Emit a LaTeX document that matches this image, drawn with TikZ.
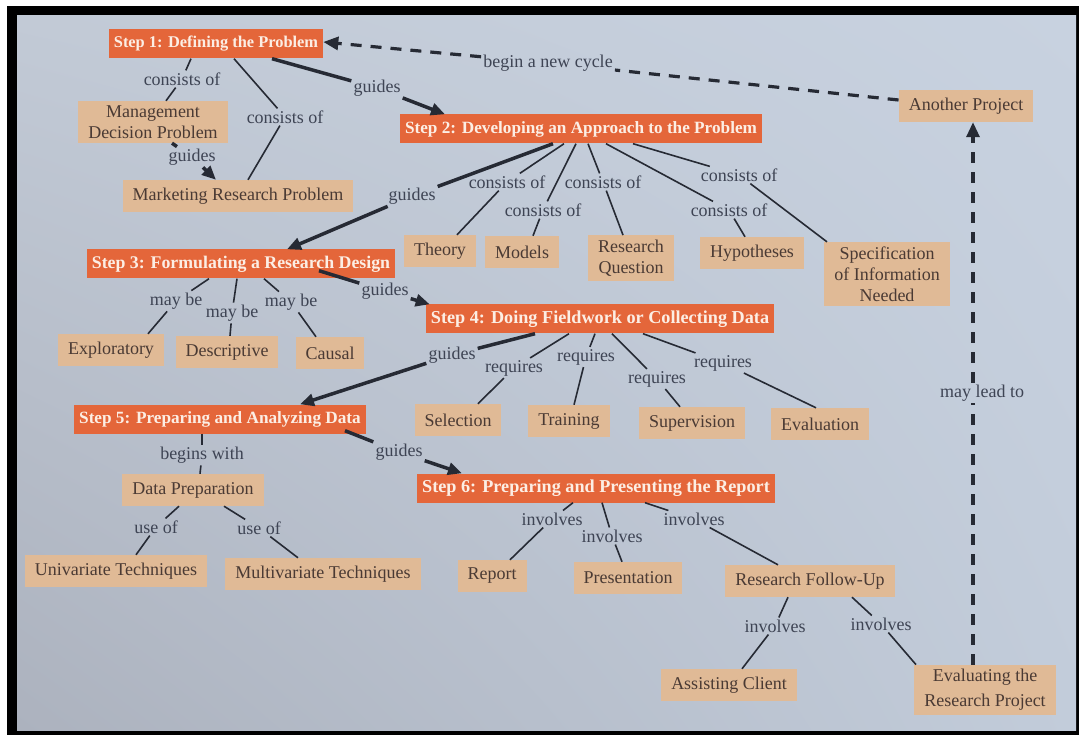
\documentclass[tikz,border=0pt]{standalone}
\usepackage{fontspec}
\setmainfont{Liberation Serif}
\usetikzlibrary{arrows.meta,calc,shadings}
\definecolor{stepfill}{RGB}{228,102,58}
\definecolor{steptext}{RGB}{252,238,228}
\definecolor{boxtan}{RGB}{224,186,150}
\definecolor{boxtext}{RGB}{74,58,52}
\definecolor{lbltext}{RGB}{62,68,84}
\definecolor{linec}{RGB}{38,42,52}
\definecolor{bgul}{RGB}{194,202,214}
\definecolor{bgur}{RGB}{200,210,224}
\definecolor{bgll}{RGB}{172,178,190}
\definecolor{bglr}{RGB}{194,204,218}
\tikzset{
  stepbox/.style={fill=stepfill,text=steptext,inner xsep=5pt,inner ysep=2pt,minimum height=29pt,font=\fontsize{#1}{#1}\selectfont\bfseries},
  stepbox/.default=17.5,
  tanbox/.style={fill=boxtan,text=boxtext,inner xsep=10pt,inner ysep=4.5pt,minimum height=32pt,align=center,font=\fontsize{18}{21}\selectfont},
  lbl/.style={text=lbltext,inner sep=2pt,font=\fontsize{18}{20}\selectfont},
  conn/.style={draw=linec,line width=1.6pt},
  guideline/.style={draw=linec,line width=3.5pt},
  guidearrow/.style={draw=linec,line width=3.5pt,-{Triangle[length=14pt,width=12pt]}},
  dashline/.style={draw=linec,line width=3.2pt,dash pattern=on 11pt off 9pt},
  dasharrow/.style={dashline,-{Triangle[length=15pt,width=13pt]}}
}
\begin{document}
\begin{tikzpicture}[x=1pt,y=-1pt]
\useasboundingbox (0,0) rectangle (1079,735);
\fill[white] (0,0) rectangle (1079,735);
\fill[black] (7,6) rectangle (1079,735);
\shade[upper left=bgul,upper right=bgur,lower left=bgll,lower right=bglr] (17,16) rectangle (1076,730);

% step boxes
\node[stepbox=16.4] (s1) at (216,44) {Step 1: Defining the Problem};
\node[stepbox=17.2] (s2) at (581,129) {Step 2: Developing an Approach to the Problem};
\node[stepbox=17.8] (s3) at (241,264) {Step 3: Formulating a Research Design};
\node[stepbox=18.2] (s4) at (600,319) {Step 4: Doing Fieldwork or Collecting Data};
\node[stepbox=17.2] (s5) at (220,419) {Step 5: Preparing and Analyzing Data};
\node[stepbox=18.2] (s6) at (596,488) {Step 6: Preparing and Presenting the Report};

% tan boxes
\node[tanbox] (mdp) at (153,122) {Management\\Decision Problem};
\node[tanbox] (mrp) at (238,196) {Marketing Research Problem};
\node[tanbox] (ap) at (966,106) {Another Project};
\node[tanbox] (theory) at (440,251) {Theory};
\node[tanbox] (models) at (522,252) {Models};
\node[tanbox] (rq) at (631,258) {Research\\Question};
\node[tanbox] (hyp) at (752,253) {Hypotheses};
\node[tanbox] (spec) at (887,274) {Specification\\of Information\\Needed};
\node[tanbox] (expl) at (111,350) {Exploratory};
\node[tanbox] (desc) at (227,352) {Descriptive};
\node[tanbox] (causal) at (330,353) {Causal};
\node[tanbox] (sel) at (458,420) {Selection};
\node[tanbox] (train) at (569,421) {Training};
\node[tanbox] (superv) at (692,423) {Supervision};
\node[tanbox] (evalu) at (820,424) {Evaluation};
\node[tanbox] (dprep) at (193,490) {Data Preparation};
\node[tanbox] (univ) at (116,571) {Univariate Techniques};
\node[tanbox] (multiv) at (323,574) {Multivariate Techniques};
\node[tanbox] (report) at (492,576) {Report};
\node[tanbox] (pres) at (628,578) {Presentation};
\node[tanbox] (rfu) at (810,581) {Research Follow-Up};
\node[tanbox] (assist) at (729,685) {Assisting Client};
\node[tanbox,font=\fontsize{18}{25}\selectfont] (evalrp) at (985,690) {Evaluating the\\Research Project};

% labels
\node[lbl] (l1a) at (182,79) {consists of};
\node[lbl] (l1b) at (285,117) {consists of};
\node[lbl] (g1) at (377,88) {guides};
\node[lbl] (g0) at (192,157) {guides};
\node[lbl] (bnc) at (548,63) {begin a new cycle};
\node[lbl] (g2) at (412,196) {guides};
\node[lbl] (l2a) at (507,182) {consists of};
\node[lbl] (l2b) at (543,210) {consists of};
\node[lbl] (l2c) at (603,182) {consists of};
\node[lbl] (l2d) at (739,175) {consists of};
\node[lbl] (l2e) at (729,210) {consists of};
\node[lbl] (l3a) at (176,301) {may be};
\node[lbl] (l3b) at (232,313) {may be};
\node[lbl] (l3c) at (291,302) {may be};
\node[lbl] (g3) at (385,291) {guides};
\node[lbl] (g4) at (452,355) {guides};
\node[lbl] (l4a) at (514,368) {requires};
\node[lbl] (l4b) at (586,357) {requires};
\node[lbl] (l4c) at (657,379) {requires};
\node[lbl] (l4d) at (723,363) {requires};
\node[lbl] (mlt) at (982,393) {may lead to};
\node[lbl] (l5a) at (202,455) {begins with};
\node[lbl] (g5) at (399,452) {guides};
\node[lbl] (l5b) at (156,527) {use of};
\node[lbl] (l5c) at (259,528) {use of};
\node[lbl] (l6a) at (552,519) {involves};
\node[lbl] (l6b) at (612,536) {involves};
\node[lbl] (l6c) at (694,519) {involves};
\node[lbl] (l7a) at (775,626) {involves};
\node[lbl] (l7b) at (881,624) {involves};

% thin connectors
\draw[conn] ([xshift=-25pt]s1.south) -- (l1a);
\draw[conn] (l1a) -- ([xshift=13pt]mdp.north);
\draw[conn] ([xshift=18pt]s1.south) -- (l1b);
\draw[conn] (l1b) -- ([xshift=10pt]mrp.north);

\draw[conn] ([xshift=-17pt]s2.south) -- (l2a);
\draw[conn] (l2a) -- ([xshift=17pt]theory.north);
\draw[conn] ([xshift=-5pt]s2.south) -- (l2b);
\draw[conn] (l2b) -- ([xshift=11pt]models.north);
\draw[conn] ([xshift=7pt]s2.south) -- (l2c);
\draw[conn] (l2c) -- ([xshift=-8pt]rq.north);
\draw[conn] ([xshift=25pt]s2.south) -- (l2e);
\draw[conn] (l2e) -- ([xshift=-7pt]hyp.north);
\draw[conn] ([xshift=52pt]s2.south) -- (l2d);
\draw[conn] (l2d) -- ([xshift=-60pt]spec.north);

\draw[conn] ([xshift=-32pt]s3.south) -- (l3a);
\draw[conn] (l3a) -- ([xshift=37pt]expl.north);
\draw[conn] ([xshift=-4pt]s3.south) -- (l3b);
\draw[conn] (l3b) -- ([xshift=3pt]desc.north);
\draw[conn] ([xshift=23pt]s3.south) -- (l3c);
\draw[conn] (l3c) -- ([xshift=-14pt]causal.north);

\draw[conn] ([xshift=-31pt]s4.south) -- (l4a);
\draw[conn] (l4a) -- ([xshift=20pt]sel.north);
\draw[conn] ([xshift=-5pt]s4.south) -- (l4b);
\draw[conn] (l4b) -- ([xshift=5pt]train.north);
\draw[conn] ([xshift=12pt]s4.south) -- (l4c);
\draw[conn] (l4c) -- ([xshift=-12pt]superv.north);
\draw[conn] ([xshift=43pt]s4.south) -- (l4d);
\draw[conn] (l4d) -- ([xshift=-4pt]evalu.north);

\draw[conn] ([xshift=-18pt]s5.south) -- (l5a);
\draw[conn] (l5a) -- ([xshift=7pt]dprep.north);
\draw[conn] ([xshift=-14pt]dprep.south) -- (l5b);
\draw[conn] (l5b) -- ([xshift=20pt]univ.north);
\draw[conn] ([xshift=31pt]dprep.south) -- (l5c);
\draw[conn] (l5c) -- ([xshift=-25pt]multiv.north);

\draw[conn] ([xshift=-23pt]s6.south) -- (l6a);
\draw[conn] (l6a) -- ([xshift=18pt]report.north);
\draw[conn] ([xshift=6pt]s6.south) -- (l6b);
\draw[conn] (l6b) -- ([xshift=-6pt]pres.north);
\draw[conn] ([xshift=49pt]s6.south) -- (l6c);
\draw[conn] (l6c) -- ([xshift=-32pt]rfu.north);
\draw[conn] ([xshift=-22pt]rfu.south) -- (l7a);
\draw[conn] (l7a) -- ([xshift=13pt]assist.north);
\draw[conn] ([xshift=42pt]rfu.south) -- (l7b);
\draw[conn] (l7b) -- ([xshift=-69pt]evalrp.north);

% guides (thick arrows)
\draw[guideline] ([xshift=56pt]s1.south) -- (g1);
\draw[guidearrow] (g1) -- ([xshift=-136pt]s2.north);
\draw[guideline] ([xshift=19pt]mdp.south) -- (g0);
\draw[guidearrow] (g0) -- ([xshift=-22pt]mrp.north);
\draw[guideline] ([xshift=-28pt]s2.south) -- (g2);
\draw[guidearrow] (g2) -- ([xshift=46pt]s3.north);
\draw[guideline] ([xshift=78pt,yshift=8pt]s3.south) -- (g3);
\draw[guidearrow] (g3) -- ([xshift=4pt]s4.north west);
\draw[guideline] ([xshift=-65pt]s4.south) -- (g4);
\draw[guidearrow] (g4) -- ([xshift=80pt]s5.north);
\draw[guideline] ([xshift=125pt,yshift=3pt]s5.south) -- (g5);
\draw[guidearrow] (g5) -- ([xshift=-134pt]s6.north);

% dashed cycle arrows
\draw[dashline] ([yshift=6pt]ap.west) -- (bnc);
\draw[dasharrow] (bnc) -- ([yshift=2pt]s1.east);
\coordinate (vx) at (973,0);
\draw[dashline] (evalrp.north -| vx) -- (mlt.south -| vx);
\draw[dasharrow] (mlt.north -| vx) -- (ap.south -| vx);
\end{tikzpicture}
\end{document}
